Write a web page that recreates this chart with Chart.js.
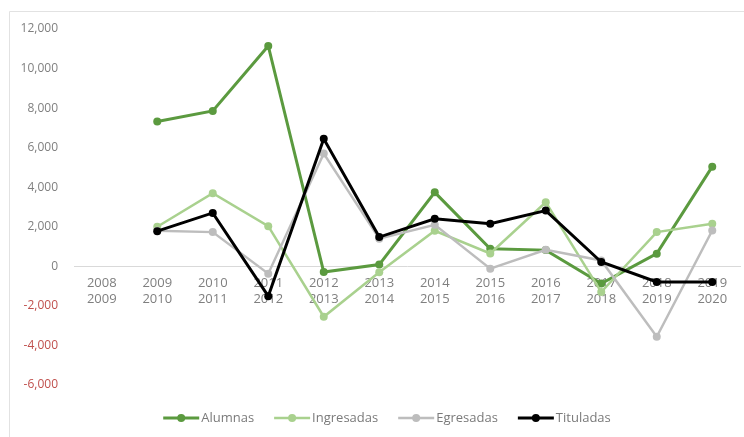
<!DOCTYPE html>
<html>
<head>
<meta charset="utf-8">
<script src="https://cdn.jsdelivr.net/npm/chart.js@4/dist/chart.umd.min.js"></script>
<style>
  html, body { margin: 0; padding: 0; background: #ffffff; }
  #wrap { width: 744px; height: 437px; position: relative; }
</style>
</head>
<body>
<div id="wrap"><canvas id="chart"></canvas></div>
<script>
// Periods (two-line labels: start year / end year)
const periods = [
  ['2008', '2009'], ['2009', '2010'], ['2010', '2011'], ['2011', '2012'],
  ['2012', '2013'], ['2013', '2014'], ['2014', '2015'], ['2015', '2016'],
  ['2016', '2017'], ['2017', '2018'], ['2018', '2019'], ['2019', '2020']
];

// Year-over-year change per series
const alumnas    = [null, 7320, 7860, 11140, -290,   90, 3740,  890,  820, -870,   640, 5040];
const ingresadas = [null, 2000, 3700,  2030, -2550, -300, 1800,  650, 3240, -1300, 1730, 2150];
const egresadas  = [null, 1800, 1730,  -370, 5700, 1400, 2100, -120,  840,  300, -3560, 1810];
const tituladas  = [null, 1780, 2700, -1510, 6450, 1480, 2400, 2150, 2820,  220,  -790, -790];

// Value axis range and tick spacing
const yMin = -6000;
const yMax = 12000;
const yStep = 2000;

const FONT = "'Open Sans', 'Liberation Sans', sans-serif";

// Later series are drawn over earlier ones (lower order = on top)
function series(label, data, color, width, order) {
  return {
    label, data, order,
    borderColor: color,
    backgroundColor: color,
    borderWidth: width,
    pointRadius: 4,
    pointHoverRadius: 4,
    pointBorderWidth: 0,
    tension: 0,
    spanGaps: false
  };
}

// White background with a thin frame along the top and left edges
const framePlugin = {
  id: 'frame',
  beforeDraw(chart) {
    const ctx = chart.ctx;
    ctx.save();
    ctx.fillStyle = '#ffffff';
    ctx.fillRect(0, 0, chart.width, chart.height);
    ctx.strokeStyle = '#e2e2e2';
    ctx.lineWidth = 1;
    ctx.beginPath();
    ctx.moveTo(9.5, chart.height);
    ctx.lineTo(9.5, 11.5);
    ctx.lineTo(chart.width, 11.5);
    ctx.stroke();
    ctx.restore();
  }
};

// Legend row: line segment with a marker, then the series name
const legendPlugin = {
  id: 'lineLegend',
  afterDraw(chart) {
    const ctx = chart.ctx;
    const sets = chart.data.datasets;
    const segW = 36, gap = 2, itemGap = 20;
    const y = 418;
    ctx.save();
    ctx.font = '13px ' + FONT;
    const widths = sets.map(d => segW + gap + ctx.measureText(d.label).width);
    const total = widths.reduce((a, b) => a + b, 0) + itemGap * (sets.length - 1);
    let x = 387 - total / 2;
    sets.forEach((d, i) => {
      ctx.strokeStyle = d.borderColor;
      ctx.lineWidth = d.borderWidth;
      ctx.beginPath();
      ctx.moveTo(x, y);
      ctx.lineTo(x + segW, y);
      ctx.stroke();
      ctx.fillStyle = d.borderColor;
      ctx.beginPath();
      ctx.arc(x + segW / 2, y, 4, 0, Math.PI * 2);
      ctx.fill();
      ctx.fillStyle = '#7a7a7a';
      ctx.textBaseline = 'middle';
      ctx.textAlign = 'left';
      ctx.fillText(d.label, x + segW + gap, y);
      x += widths[i] + itemGap;
    });
    ctx.restore();
  }
};

new Chart(document.getElementById('chart'), {
  type: 'line',
  data: {
    labels: periods,
    datasets: [
      series('Alumnas', alumnas, '#5b9a3f', 3, 3),
      series('Ingresadas', ingresadas, '#a9d18e', 2.5, 2),
      series('Egresadas', egresadas, '#bdbdbd', 2.5, 1),
      series('Tituladas', tituladas, '#000000', 3, 0)
    ]
  },
  options: {
    responsive: true,
    maintainAspectRatio: false,
    animation: false,
    layout: { padding: { top: 29, right: 3, bottom: 52, left: 0 } },
    plugins: {
      legend: { display: false },
      tooltip: { enabled: false }
    },
    scales: {
      x: {
        type: 'category',
        position: { y: 0 },
        offset: true,
        grid: { display: false, drawTicks: false },
        border: { display: true, color: '#d9d9d9', width: 1 },
        ticks: {
          color: '#7f7f7f',
          font: { family: FONT, size: 13, lineHeight: 1.23 },
          padding: 9,
          maxRotation: 0,
          autoSkip: false
        }
      },
      y: {
        min: yMin,
        max: yMax,
        grid: { display: false, drawTicks: false },
        border: { display: false },
        afterFit(scale) { scale.width = 74; },
        ticks: {
          stepSize: yStep,
          padding: 16,
          font: { family: FONT, size: 12 },
          color: ctx => (ctx.tick && ctx.tick.value < 0) ? '#c0504d' : '#7f7f7f',
          callback: v => Number(v).toLocaleString('en-US')
        }
      }
    }
  },
  plugins: [framePlugin, legendPlugin]
});
</script>
</body>
</html>
